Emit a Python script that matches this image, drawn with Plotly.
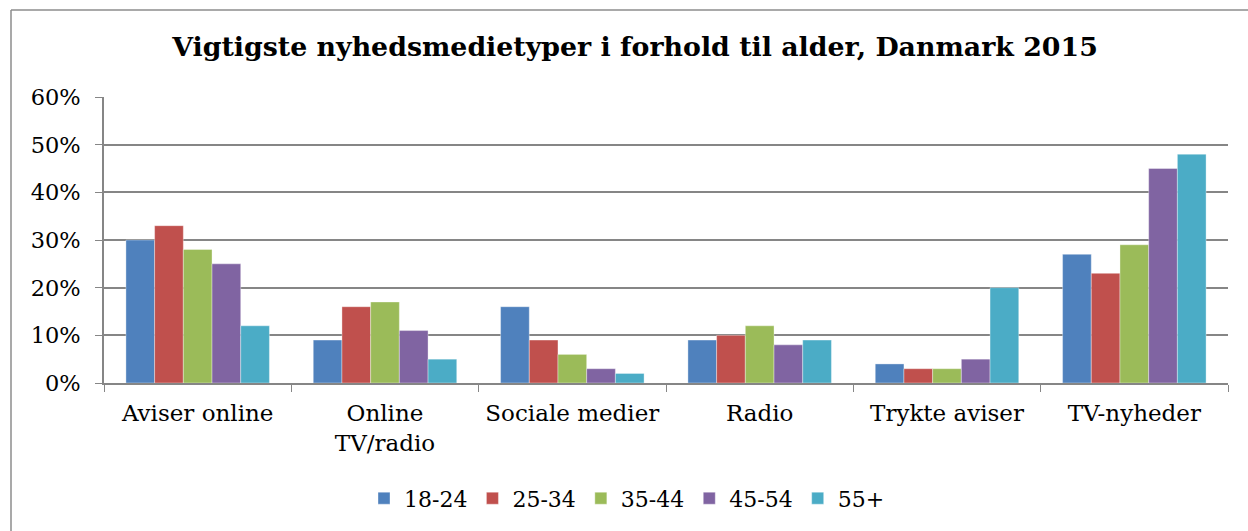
import plotly.graph_objects as go

categories = ["Aviser online", "Online<br>TV/radio", "Sociale medier", "Radio", "Trykte aviser", "TV-nyheder"]
series_names = ["18-24", "25-34", "35-44", "45-54", "55+"]
v_18_24 = [30, 9, 16, 9, 4, 27]
v_25_34 = [33, 16, 9, 10, 3, 23]
v_35_44 = [28, 17, 6, 12, 3, 29]
v_45_54 = [25, 11, 3, 8, 5, 45]
v_55p = [12, 5, 2, 9, 20, 48]
colors = ["#4F81BD", "#C0504D", "#9BBB59", "#8064A2", "#4BACC6"]
y_ticks = [0, 10, 20, 30, 40, 50, 60]
y_ticklabels = ["0%", "10%", "20%", "30%", "40%", "50%", "60%"]

FONT = "DejaVu Serif"

fig = go.Figure()
for name, vals, col in zip(series_names, [v_18_24, v_25_34, v_35_44, v_45_54, v_55p], colors):
    fig.add_trace(go.Bar(
        x=categories, y=vals, name=name,
        marker=dict(color=col, line=dict(color="rgba(255,255,255,0.6)", width=0.6)),
    ))

plot_w = 1248 - 104 - 20
plot_h = 531 - 97 - 148

fig.update_layout(
    width=1248, height=531,
    margin=dict(l=104, r=20, t=97, b=148, autoexpand=False),
    paper_bgcolor="white", plot_bgcolor="white",
    barmode="group", bargap=0.234, bargroupgap=0,
    font=dict(family=FONT, size=22, color="black"),
    title=dict(
        text="<b>Vigtigste nyhedsmedietyper i forhold til alder, Danmark 2015</b>",
        x=635 / 1248, xref="container", xanchor="center",
        y=1 - 47 / 531, yref="container", yanchor="middle",
        font=dict(family=FONT, size=26.8, color="black"),
    ),
    legend=dict(
        orientation="h", x=(627 - 104) / plot_w, xanchor="center", xref="paper",
        y=-0.33, yanchor="top", yref="paper",
        font=dict(family=FONT, size=22),
        itemwidth=30, traceorder="normal",
    ),
    showlegend=True,
)

fig.update_yaxes(
    range=[0, 60], tickvals=y_ticks, ticktext=y_ticklabels,
    showgrid=True, gridcolor="#868686", gridwidth=1.5,
    showline=True, linecolor="#868686", linewidth=1.5,
    ticks="outside", ticklen=7, tickcolor="#868686",
    ticklabelstandoff=10, zeroline=False,
    tickfont=dict(family=FONT, size=22.5),
)
fig.update_xaxes(
    showline=True, linecolor="#868686", linewidth=1.5,
    ticks="outside", ticklen=7, tickcolor="#868686", tickson="boundaries",
    tickfont=dict(family=FONT, size=23), ticklabelstandoff=9, tickangle=0,
)

# outer frame (top and left edges visible, the rest runs off the page)
x_left = (11 - 104) / plot_w
y_top = 1 + (97 - 10) / plot_h
fig.add_shape(type="line", xref="paper", yref="paper", x0=x_left, x1=1.2, y0=y_top, y1=y_top,
              line=dict(color="#8c8c8c", width=1.5))
fig.add_shape(type="line", xref="paper", yref="paper", x0=x_left, x1=x_left, y0=y_top, y1=-1,
              line=dict(color="#8c8c8c", width=1.5))

fig.write_html("out.html", config={"displayModeBar": False})
with open("out.html", encoding="utf-8") as f:
    html = f.read()
html = html.replace("<head>", "<head><style>html,body{margin:0;padding:0;overflow:hidden;}</style>", 1)
with open("out.html", "w", encoding="utf-8") as f:
    f.write(html)
